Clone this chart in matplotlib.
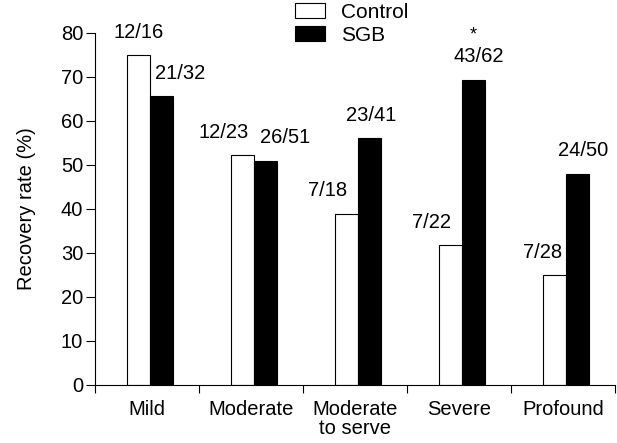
import numpy as np
import matplotlib.pyplot as plt

plt.rcParams['font.family'] = ['Liberation Sans', 'DejaVu Sans']
plt.rcParams['font.size'] = 14.5

# data
categories = ['Mild', 'Moderate', 'Moderate\nto serve', 'Severe', 'Profound']
control = [75.0, 52.2, 38.9, 31.8, 25.0]
sgb = [65.6, 51.0, 56.1, 69.4, 48.0]
control_lbl = ['12/16', '12/23', '7/18', '7/22', '7/28']
sgb_lbl = ['21/32', '26/51', '23/41', '43/62', '24/50']

# horizontal nudges of the count labels (pixels)
control_dx = [0, -19, -19, -19, -12]
sgb_dx = [19, 20, 2, 5, 6]

fig = plt.figure(figsize=(6.17, 4.43), dpi=100)
ax = fig.add_axes([95/617, 1-385/443, 520/617, 352/443])

x = np.arange(len(categories))
w = 0.22
xc = x + 0.31 + w/2
xs = x + 0.31 + 1.5*w
ax.bar(xc, control, w, color='white', edgecolor='black', linewidth=0.8, label='Control')
ax.bar(xs, sgb, w, color='black', edgecolor='black', linewidth=0.8, label='SGB')

px = 0.72  # points per pixel at dpi 100
for i in range(len(x)):
    ax.annotate(control_lbl[i], (xc[i], control[i]), xytext=(control_dx[i]*px, 23*px),
                textcoords='offset points', ha='center', va='center')
    ax.annotate(sgb_lbl[i], (xs[i], sgb[i]), xytext=(sgb_dx[i]*px, 23*px),
                textcoords='offset points', ha='center', va='center')
# significance mark on Severe SGB
ax.annotate('*', (xs[3], sgb[3]), xytext=(0, 36*px), textcoords='offset points',
            ha='center', va='bottom', fontsize=13)

ax.set_xlim(0, 5)
ax.set_ylim(0, 80)
ax.set_yticks(range(0, 81, 10))
ax.set_xticks(range(0, 6))
ax.set_xticklabels([])
ax.set_xticks(x + 0.5, minor=True)
ax.set_xticklabels(categories, minor=True, linespacing=1.0)
ax.tick_params(axis='x', which='minor', length=0, pad=11)
ax.tick_params(axis='x', which='major', length=5.5, direction='out')
ax.tick_params(axis='y', length=6.5, direction='out', pad=2)
ax.spines['top'].set_visible(False)
ax.spines['right'].set_visible(False)
ax.spines['left'].set_bounds(0, 80)
ax.set_ylabel('Recovery rate (%)', labelpad=18)

fig.legend(loc='upper left', bbox_to_anchor=(295/617, 1-3/443), frameon=False,
           borderpad=0, borderaxespad=0, handlelength=1.45, handleheight=0.72,
           handletextpad=0.75, labelspacing=0.2, fontsize=15)

fig.savefig('out.png', dpi=100)
